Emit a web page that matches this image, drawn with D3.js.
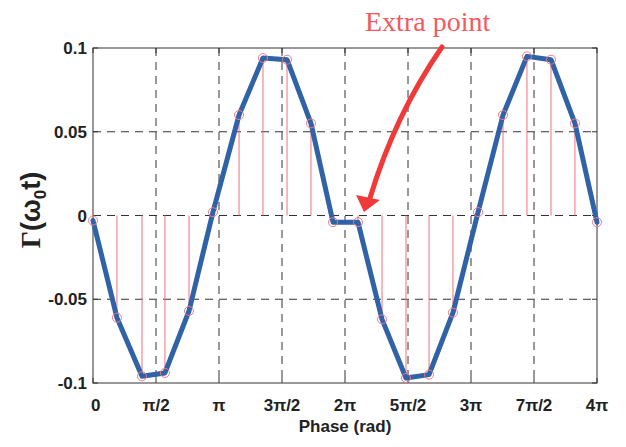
<!DOCTYPE html>
<html><head><meta charset="utf-8">
<script src="https://cdn.jsdelivr.net/npm/d3@7"></script>
<style>body{margin:0;background:#fff}</style>
</head><body>
<svg id="c" width="626" height="447"></svg>
<script>
// phase in units of pi
const phasePi = [0, 0.19, 0.389, 0.571, 0.762, 0.952, 1.159, 1.349, 1.54, 1.73, 1.905, 2.103, 2.294, 2.484, 2.667, 2.857, 3.056, 3.254, 3.444, 3.635, 3.825, 4.0];
const gammaVals = [-0.003, -0.061, -0.096, -0.094, -0.057, 0.002, 0.060, 0.094, 0.093, 0.055, -0.004, -0.004, -0.062, -0.097, -0.095, -0.058, 0.002, 0.060, 0.095, 0.093, 0.055, -0.004];
const xTickPi = [0, 0.5, 1, 1.5, 2, 2.5, 3, 3.5, 4];
const xTickLabels = ["0", "π/2", "π", "3π/2", "2π", "5π/2", "3π", "7π/2", "4π"];
const yTicks = [-0.1, -0.05, 0, 0.05, 0.1];
const yTickLabels = ["-0.1", "-0.05", "0", "0.05", "0.1"];

const svg = d3.select("#c");
const L = 93, R = 597, T = 48, B = 383;
const x = d3.scaleLinear().domain([0, 4 * Math.PI]).range([L, R]);
const y = d3.scaleLinear().domain([-0.1, 0.1]).range([B, T]);
const data = phasePi.map((p, i) => ({ x: p * Math.PI, y: gammaVals[i] }));

// grid
const g = svg.append("g");
g.selectAll(".vg").data(xTickPi.slice(1, -1)).join("line")
  .attr("x1", d => x(d * Math.PI)).attr("x2", d => x(d * Math.PI))
  .attr("y1", T).attr("y2", B)
  .attr("stroke", "#333").attr("stroke-width", 1).attr("stroke-dasharray", "8,6");
g.selectAll(".hg").data(yTicks.slice(1, -1)).join("line")
  .attr("y1", d => y(d)).attr("y2", d => y(d))
  .attr("x1", L).attr("x2", R)
  .attr("stroke", "#333").attr("stroke-width", 1).attr("stroke-dasharray", "8,6");

// box
svg.append("rect").attr("x", L).attr("y", T).attr("width", R - L).attr("height", B - T)
  .attr("fill", "none").attr("stroke", "#333").attr("stroke-width", 1);

// ticks inward
const tickLen = 5;
xTickPi.forEach(d => {
  const px = x(d * Math.PI);
  svg.append("line").attr("x1", px).attr("x2", px).attr("y1", B).attr("y2", B - tickLen).attr("stroke", "#333");
  svg.append("line").attr("x1", px).attr("x2", px).attr("y1", T).attr("y2", T + tickLen).attr("stroke", "#333");
});
yTicks.forEach(d => {
  const py = y(d);
  svg.append("line").attr("x1", L).attr("x2", L + tickLen).attr("y1", py).attr("y2", py).attr("stroke", "#333");
  svg.append("line").attr("x1", R).attr("x2", R - tickLen).attr("y1", py).attr("y2", py).attr("stroke", "#333");
});

// tick labels
svg.selectAll(".xl").data(xTickPi).join("text")
  .attr("x", d => x(d * Math.PI)).attr("y", B + 28)
  .attr("text-anchor", (d, i) => i === 0 ? "start" : "middle")
  .attr("dx", (d, i) => i === 0 ? -2 : 0)
  .attr("font-family", "Liberation Sans, Arial, sans-serif").attr("font-weight", "bold")
  .attr("font-size", 17).attr("fill", "#222")
  .text((d, i) => xTickLabels[i]);
svg.selectAll(".yl").data(yTicks).join("text")
  .attr("x", L - 6).attr("y", d => y(d) + 6)
  .attr("text-anchor", "end")
  .attr("font-family", "Liberation Sans, Arial, sans-serif").attr("font-weight", "bold")
  .attr("font-size", 17).attr("fill", "#222")
  .text((d, i) => yTickLabels[i]);

// axis titles
svg.append("text").attr("x", 345).attr("y", 432).attr("text-anchor", "middle")
  .attr("font-family", "Liberation Sans, Arial, sans-serif").attr("font-weight", "bold")
  .attr("font-size", 17).attr("fill", "#222").text("Phase (rad)");
const yl = svg.append("text").attr("transform", "translate(40,210) rotate(-90)")
  .attr("text-anchor", "middle")
  .attr("font-family", "Liberation Sans, Arial, sans-serif").attr("font-weight", "bold")
  .attr("font-size", 27).attr("fill", "#222");
yl.append("tspan").attr("font-family", "Liberation Serif, serif").text("Γ");
yl.append("tspan").text("(ω");
yl.append("tspan").attr("font-size", 17).attr("dy", 6).text("0");
yl.append("tspan").attr("dy", -6).text("t)");

// stems
svg.selectAll(".stem").data(data).join("line")
  .attr("x1", d => x(d.x)).attr("x2", d => x(d.x))
  .attr("y1", y(0)).attr("y2", d => y(d.y))
  .attr("stroke", "#f2707c").attr("stroke-width", 1);

// blue line
svg.append("path").datum(data)
  .attr("d", d3.line().x(d => x(d.x)).y(d => y(d.y)))
  .attr("fill", "none").attr("stroke", "#2f62a6").attr("stroke-width", 5)
  .attr("stroke-linejoin", "round").attr("stroke-linecap", "round");

// markers
svg.selectAll(".mk").data(data).join("circle")
  .attr("cx", d => x(d.x)).attr("cy", d => y(d.y)).attr("r", 4.5)
  .attr("fill", "none").attr("stroke", "#f07a80").attr("stroke-width", 1);

// annotation
svg.append("text").attr("x", 365).attr("y", 31)
  .attr("font-family", "Liberation Serif, Times New Roman, serif")
  .attr("font-size", 28).attr("fill", "#f25a5e").text("Extra point");
svg.append("path")
  .attr("d", "M442,47 Q395,115 370,198")
  .attr("fill", "none").attr("stroke", "#f03a3a").attr("stroke-width", 5).attr("stroke-linecap", "round");
svg.append("path")
  .attr("d", "M356,195 L380,200 L364,212 Z")
  .attr("fill", "#f03a3a");
</script>
</body></html>
